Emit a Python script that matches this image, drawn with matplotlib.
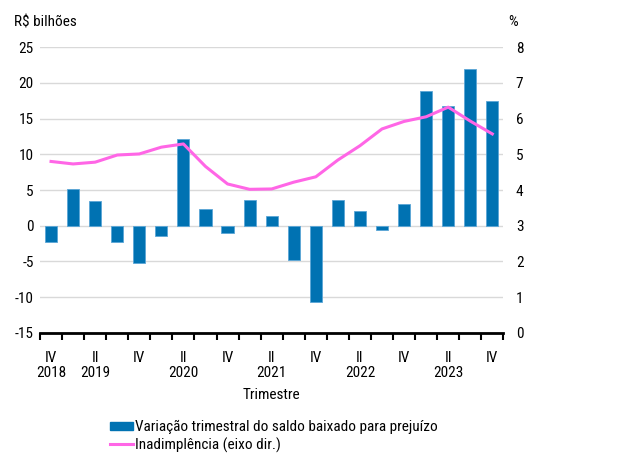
import matplotlib
matplotlib.use("Agg")
import matplotlib.pyplot as plt
from matplotlib.patches import Patch
from matplotlib.lines import Line2D
from matplotlib import font_manager
import numpy as np


def pick_condensed():
    fl = font_manager.fontManager.ttflist
    names = {f.name for f in fl}
    for p in ['Liberation Sans Narrow', 'Arial Narrow', 'Roboto Condensed',
              'Noto Sans Condensed', 'Open Sans Condensed']:
        if p in names:
            return p, 'normal'
    for base in ['Roboto', 'Noto Sans', 'Open Sans', 'Lato', 'Inter']:
        for f in fl:
            if (f.name == base and str(f.stretch) in ('condensed', 'semi-condensed')
                    and f.style == 'normal' and f.weight in (400, 'normal', 'regular')):
                return base, str(f.stretch)
    return None


choice = pick_condensed()
if choice:
    plt.rcParams['font.family'] = [choice[0], 'DejaVu Sans']
    plt.rcParams['font.stretch'] = choice[1]
    fs = 11
else:
    plt.rcParams['font.family'] = ['Liberation Sans', 'DejaVu Sans']
    fs = 10
plt.rcParams['axes.unicode_minus'] = False

quarters = ["IV", "I", "II", "III", "IV", "I", "II", "III", "IV", "I", "II", "III", "IV",
            "I", "II", "III", "IV", "I", "II", "III", "IV"]
years = ["2018", "2019", "2019", "2019", "2019", "2020", "2020", "2020", "2020", "2021", "2021",
         "2021", "2021", "2022", "2022", "2022", "2022", "2023", "2023", "2023", "2023"]
variacao = [-2.3, 5.2, 3.4, -2.3, -5.2, -1.4, 12.2, 2.35, -0.95, 3.55, 1.4, -4.8, -10.7,
            3.65, 2.1, -0.6, 3.05, 18.9, 16.8, 22.0, 17.5]
inadimplencia = [4.80, 4.73, 4.78, 4.98, 5.01, 5.20, 5.29, 4.66, 4.17, 4.02, 4.03, 4.22, 4.37,
                 4.84, 5.24, 5.71, 5.92, 6.05, 6.32, 5.93, 5.57]
label_bar = "Variação trimestral do saldo baixado para prejuízo"
label_line = "Inadimplência (eixo dir.)"

bar_color = "#0072B2"
line_color = "#FF66E6"

fig = plt.figure(figsize=(6.4, 4.53), dpi=100)
ax = fig.add_axes([0.0625, 0.265, 0.724, 0.631])
ax2 = ax.twinx()

x = np.arange(len(variacao))
ax.bar(x, variacao, width=0.55, color=bar_color, edgecolor="#5AA5D6", linewidth=0.6, zorder=3)
ax.set_ylim(-15, 25)
ax.set_xlim(-0.5, len(variacao) - 0.5)
ax.set_yticks(np.arange(-15, 26, 5))
ax.grid(axis='y', color='#D9D9D9', linewidth=1.0, zorder=0)
ax.set_axisbelow(True)

ax2.plot(x, inadimplencia, color=line_color, linewidth=2.2, zorder=4)
ax2.set_ylim(0, 8)
ax2.set_yticks(np.arange(0, 9, 1))

for a in (ax, ax2):
    for s in ("left", "right", "top", "bottom"):
        a.spines[s].set_visible(False)
ax.spines["bottom"].set_visible(True)
ax.spines["bottom"].set_linewidth(2.0)
ax.spines["bottom"].set_color("black")

ax.tick_params(axis='y', length=0, labelsize=fs, pad=4.5)
ax2.tick_params(axis='y', length=0, labelsize=fs, pad=9)

# boundary ticks
ax.set_xticks(np.arange(-0.5, len(variacao), 1.0))
ax.set_xticklabels([])
ax.tick_params(axis='x', which='major', length=5, width=1.5, direction='out', color='black')

labels = []
for i, (q, y) in enumerate(zip(quarters, years)):
    if q in ("II", "IV"):
        yr = y if (q == "II" or i == 0) else ""
        labels.append((i, q + "\n" + yr if yr else q))
ax.set_xticks([i for i, _ in labels], minor=True)
ax.set_xticklabels([t for _, t in labels], minor=True, fontsize=fs, linespacing=1.05)
ax.tick_params(axis='x', which='minor', length=0, pad=13)

ax.set_xlabel("Trimestre", fontsize=fs, labelpad=6)

fig.text(14 / 640, 1 - 22 / 453, "R$ bilhões", fontsize=fs, va='center', ha='left')
fig.text(508 / 640, 1 - 22 / 453, "%", fontsize=fs, va='center', ha='left')

handles = [Patch(facecolor=bar_color, edgecolor=bar_color),
           Line2D([0], [0], color=line_color, linewidth=2.2)]
fig.legend(handles, [label_bar, label_line], loc='upper left',
           bbox_to_anchor=(110 / 640, 1 - 420 / 453), frameon=False, fontsize=fs,
           handlelength=1.5, handleheight=0.45, handletextpad=0.15, labelspacing=0.2,
           borderaxespad=0, borderpad=0)

fig.savefig("out.png", dpi=100)
